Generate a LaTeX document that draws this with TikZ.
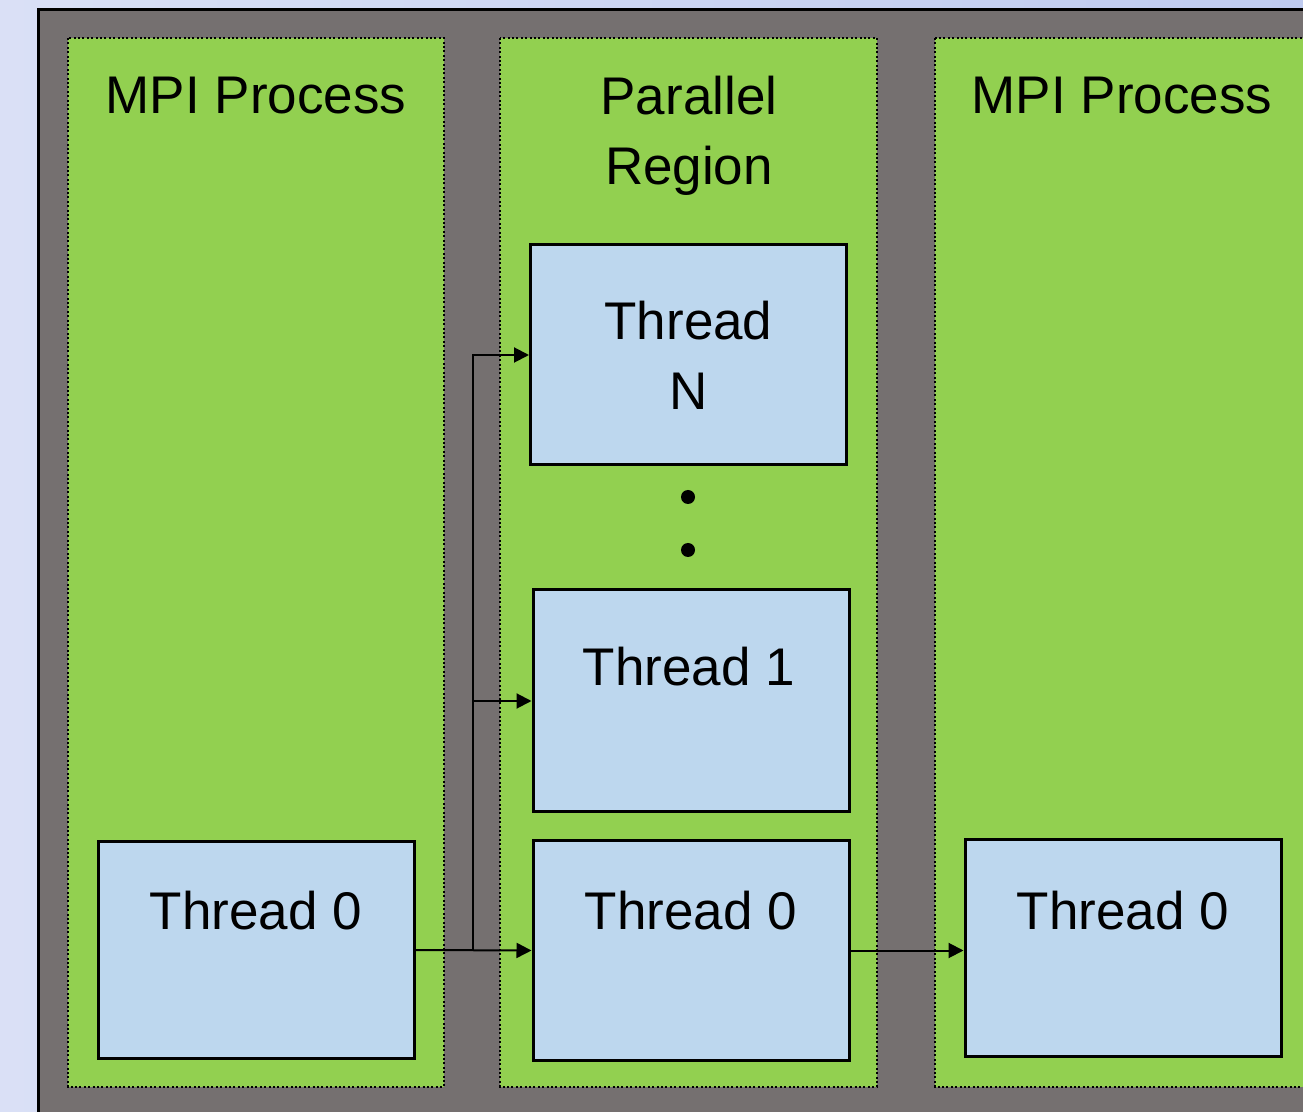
\documentclass[tikz,border=0pt]{standalone}
\usepackage{fontspec}
\setmainfont{Liberation Sans}
\usetikzlibrary{arrows.meta}
\definecolor{haze}{HTML}{DAE0F6}
\definecolor{hazedark}{HTML}{BFCBF0}
\definecolor{slate}{HTML}{757070}
\definecolor{leaf}{HTML}{92D050}
\definecolor{paleblue}{HTML}{BDD7EE}
\tikzstyle{panel} = [fill=leaf, draw=black,
line width=1pt,
dash pattern=on 1pt off 1.2pt]
\tikzstyle{threadnode} = [rectangle, draw=black,
line width=1.5pt,
fill=paleblue,
minimum width=158pt,
minimum height=110pt,
inner sep=0pt,
font=\fontsize{26.5}{35}\selectfont,
align=center]
\tikzstyle{caption} = [inner sep=0pt,
font=\fontsize{26.5}{35}\selectfont,
align=center]
\tikzstyle{arrow} = [line width=1pt,-{Triangle[length=7.5pt,width=7.5pt]}]

\begin{document}
\begin{tikzpicture}[x=0.5pt, y=-0.5pt]
\useasboundingbox (0,0) rectangle (1303,1112);
\clip (0,0) rectangle (1303,1112);
\shade[left color=haze, right color=hazedark] (0,0) rectangle (1303,1112);

% outer frame and the three columns
\draw [fill=slate, line width=1.5pt] (38,10) rectangle (1340,1150);
\draw [panel] (68,38) rectangle (444,1087);
\draw [panel] (500,38) rectangle (877,1087);
\draw [panel] (935,38) rectangle (1330,1087);

\node (leftcap) [caption, anchor=north] at (256,77) {MPI Process};
\node (midcap) [caption, anchor=north] at (689,76) {Parallel\\Region};
\node (rightcap) [caption, anchor=north] at (1122,77) {MPI Process};

% threads
\node (thr0a) [threadnode, minimum height=108pt] at (256,950) {};
\node (thrn) [threadnode] at (688.5,355) {Thread\\N};
\node (thr1) [threadnode, minimum height=111pt] at (691,701) {};
\node (thr0b) [threadnode] at (691,950.5) {};
\node (thr0c) [threadnode, minimum height=108pt] at (1123,948) {};

\node (thr0atext) [caption, anchor=north] at (256,891) {Thread 0};
\node (thr1text) [caption, anchor=north] at (689,647) {Thread 1};
\node (thr0btext) [caption, anchor=north] at (691,891) {Thread 0};
\node (thr0ctext) [caption, anchor=north] at (1123,891) {Thread 0};

\fill (688,497) circle (3.5pt);
\fill (688,550) circle (3.5pt);

% fork into the parallel region
\coordinate (fork) at (473,950);
\draw [arrow] (thr0a.east) -- (thr0b.west);
\draw [arrow] (fork) |- (thrn.west);
\draw [arrow] (fork |- thr1.west) -- (thr1.west);
\draw [arrow] (thr0b.east) -- (thr0b.east -| thr0c.west);

\end{tikzpicture}
\end{document}
